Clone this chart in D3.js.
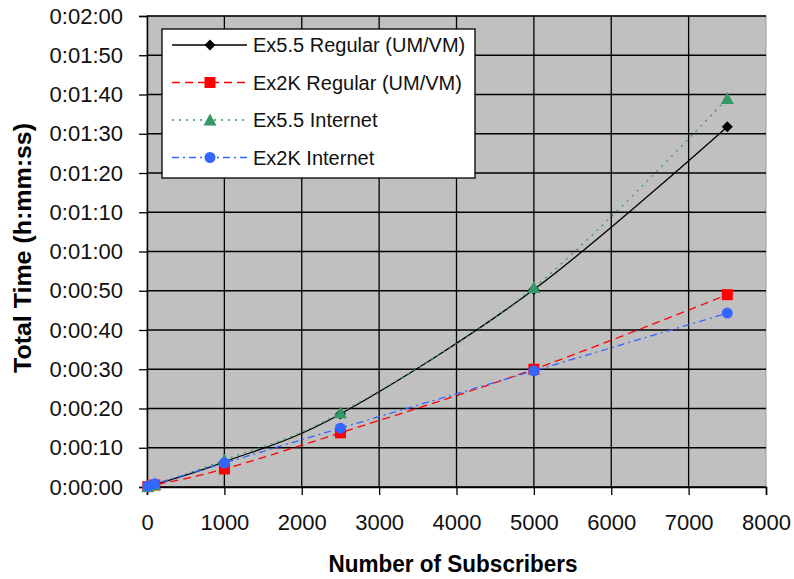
<html>
<script src='https://d3js.org/d3.v7.min.js'></script>
<style>
body { margin: 0; background: white; }
svg text { font-family: "Liberation Sans", Arial, sans-serif; }
.title { font-family: "Liberation Sans", Arial, sans-serif; font-weight: bold; }
</style>
<body>
<svg id="chart" width=794 height=579></svg>
<script>
// subscribers and total time in seconds
var subscribers = [10, 100, 1000, 2500, 5000, 7500];
var ex55Regular = [0.1, 0.6, 6.4, 18.6, 50.3, 91.8];
var ex2kRegular = [0.1, 0.5, 4.6, 13.8, 30.0, 49.0];
var ex55Internet = [0.1, 0.6, 6.9, 18.9, 50.8, 99.0];
var ex2kInternet = [0.2, 0.8, 6.1, 15.0, 29.6, 44.3];
var xTicks = [0, 1000, 2000, 3000, 4000, 5000, 6000, 7000, 8000];
var yTicks = [0, 10, 20, 30, 40, 50, 60, 70, 80, 90, 100, 110, 120];

var series = [
  {name: "Ex5.5 Regular (UM/VM)", values: ex55Regular, color: "#000000", dash: null, marker: "diamond"},
  {name: "Ex2K Regular (UM/VM)", values: ex2kRegular, color: "#ff0000", dash: "8,5", marker: "square"},
  {name: "Ex5.5 Internet", values: ex55Internet, color: "#339966", dash: "2,5", marker: "triangle"},
  {name: "Ex2K Internet", values: ex2kInternet, color: "#3366ff", dash: "7,4,2,4", marker: "circle"}
];

var svg = d3.select('#chart');
var pLeft = 147, pRight = 766, pTop = 16, pBottom = 487;

var x = d3.scaleLinear().domain([0, 8000]).range([pLeft, pRight]);
var y = d3.scaleLinear().domain([0, 120]).range([pBottom, pTop]);

function fmt(s) {
  var m = Math.floor(s / 60), sec = s % 60;
  return "0:" + (m < 10 ? "0" : "") + m + ":" + (sec < 10 ? "0" : "") + sec;
}

svg.append('rect')
  .attr('x', pLeft).attr('y', pTop)
  .attr('width', pRight - pLeft).attr('height', pBottom - pTop)
  .attr('fill', '#c0c0c0')
  .attr('stroke', '#999999');

// gridlines
svg.append('g').selectAll('line')
  .data(yTicks).enter().append('line')
  .attr('x1', pLeft).attr('x2', pRight)
  .attr('y1', function(d) { return y(d); }).attr('y2', function(d) { return y(d); })
  .attr('stroke', 'black').attr('stroke-width', 1.3);

svg.append('g').selectAll('line')
  .data(xTicks.slice(1, -1)).enter().append('line')
  .attr('y1', pTop).attr('y2', pBottom)
  .attr('x1', function(d) { return x(d); }).attr('x2', function(d) { return x(d); })
  .attr('stroke', 'black').attr('stroke-width', 1.3);

// axes
var yAxis = svg.append('g')
  .attr('transform', 'translate(' + pLeft + ',0)')
  .call(d3.axisLeft(y).tickValues(yTicks).tickFormat(fmt).tickSize(8).tickPadding(16));
var xAxis = svg.append('g')
  .attr('transform', 'translate(0,' + pBottom + ')')
  .call(d3.axisBottom(x).tickValues(xTicks).tickFormat(d3.format("d")).tickSize(8).tickPadding(19));

[yAxis, xAxis].forEach(function(a) {
  a.select('.domain').attr('stroke', 'black').attr('stroke-width', 1.5);
  a.selectAll('.tick line').attr('stroke', 'black').attr('stroke-width', 1.3);
  a.selectAll('text').attr('fill', '#111').style('font-size', '22px')
   .style('font-family', '"Liberation Sans", Arial, sans-serif');
});

function drawMarker(g, type, cx, cy, color) {
  if (type === "diamond") {
    g.append('path').attr('d', 'M' + cx + ',' + (cy - 5.5) + 'L' + (cx + 5.5) + ',' + cy + 'L' + cx + ',' + (cy + 5.5) + 'L' + (cx - 5.5) + ',' + cy + 'Z').attr('fill', color);
  } else if (type === "square") {
    g.append('rect').attr('x', cx - 5.5).attr('y', cy - 5.5).attr('width', 11).attr('height', 11).attr('fill', color);
  } else if (type === "triangle") {
    g.append('path').attr('d', 'M' + cx + ',' + (cy - 6.5) + 'L' + (cx + 6.5) + ',' + (cy + 5.5) + 'L' + (cx - 6.5) + ',' + (cy + 5.5) + 'Z').attr('fill', color);
  } else {
    g.append('circle').attr('cx', cx).attr('cy', cy).attr('r', 5.5).attr('fill', color);
  }
}

var line = d3.line()
  .x(function(d) { return x(d[0]); })
  .y(function(d) { return y(d[1]); })
  .curve(d3.curveCardinal.tension(0));

series.forEach(function(s) {
  var pts = subscribers.map(function(v, i) { return [v, s.values[i]]; });
  svg.append('path')
    .attr('d', line(pts))
    .attr('fill', 'none')
    .attr('stroke', s.color)
    .attr('stroke-width', 1.3)
    .attr('stroke-dasharray', s.dash);
  var g = svg.append('g');
  pts.forEach(function(p) { drawMarker(g, s.marker, x(p[0]), y(p[1]), s.color); });
});

// legend
var lg = svg.append('g');
lg.append('rect').attr('x', 162).attr('y', 29).attr('width', 313).attr('height', 149)
  .attr('fill', 'white').attr('stroke', 'black').attr('stroke-width', 1.3);
series.forEach(function(s, i) {
  var ly = 45 + i * 37.5;
  lg.append('line').attr('x1', 172).attr('x2', 247).attr('y1', ly).attr('y2', ly)
    .attr('stroke', s.color).attr('stroke-width', 1.3).attr('stroke-dasharray', s.dash);
  drawMarker(lg, s.marker, 210, ly, s.color);
  lg.append('text').attr('x', 253).attr('y', ly + 7).text(s.name)
    .style('font-size', '20px').attr('fill', '#111');
});

// titles
svg.append('text').attr('class', 'title')
  .attr('x', 453).attr('y', 572)
  .style('text-anchor', 'middle').style('font-size', '23px')
  .attr('textLength', 249).attr('lengthAdjust', 'spacingAndGlyphs')
  .text('Number of Subscribers');
svg.append('text').attr('class', 'title')
  .attr('transform', 'translate(31,248) rotate(-90)')
  .style('text-anchor', 'middle').style('font-size', '23px')
  .attr('textLength', 250).attr('lengthAdjust', 'spacingAndGlyphs')
  .text('Total Time (h:mm:ss)');
</script>
</body>
</html>
